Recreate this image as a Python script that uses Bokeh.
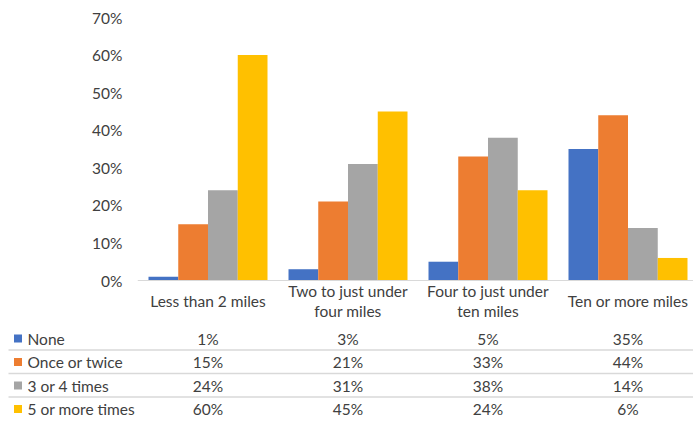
from bokeh.plotting import figure
from bokeh.models import ColumnDataSource, FixedTicker, NumeralTickFormatter, Span, Range1d
from bokeh.core.properties import value
from bokeh.embed import file_html
from bokeh.resources import INLINE

# ---- data -------------------------------------------------------------
categories = ["Less than 2 miles", "Two to just under\nfour miles",
              "Four to just under\nten miles", "Ten or more miles"]
series_names = ["None", "Once or twice", "3 or 4 times", "5 or more times"]
none_pct = [1, 3, 5, 35]
once_twice_pct = [15, 21, 33, 44]
three_four_pct = [24, 31, 38, 14]
five_plus_pct = [60, 45, 24, 6]
y_ticks = [0.0, 0.1, 0.2, 0.3, 0.4, 0.5, 0.6, 0.7]

series_values = [none_pct, once_twice_pct, three_four_pct, five_plus_pct]
colors = ["#4472C4", "#ED7D31", "#A5A5A5", "#FFC000"]

# ---- layout constants ------------------------------------------------
W = 693
TOP_H = 324          # chart + category labels
BOT_H = 424 - TOP_H  # table rows
FRAME_LEFT = 137
FRAME_TOP = 5
FIRST_CENTER = 207.5
PX_PER_CAT = 140.0
PX_PER_UNIT_Y = 375.7
ZERO_Y = 280
CAT_LABEL_Y = 300.5
BAR_W = 0.2125
FONT = value("Lato")
FONT_SIZE = "15.5px"
TXT = "#404040"

# ---- chart ---------------------------------------------------------------
x_start = -(FIRST_CENTER - FRAME_LEFT) / PX_PER_CAT
x_end = (W - FIRST_CENTER) / PX_PER_CAT
y_start = -(TOP_H - ZERO_Y) / PX_PER_UNIT_Y
y_end = (ZERO_Y - FRAME_TOP) / PX_PER_UNIT_Y

top = figure(width=W, height=TOP_H, output_backend="svg", toolbar_location=None,
             x_range=Range1d(x_start, x_end), y_range=Range1d(y_start, y_end),
             x_axis_location=None, min_border_left=FRAME_LEFT, min_border_right=0,
             min_border_top=FRAME_TOP, min_border_bottom=0,
             outline_line_color=None)
top.xgrid.visible = False
top.ygrid.visible = False

ya = top.yaxis[0]
ya.ticker = FixedTicker(ticks=y_ticks)
ya.formatter = NumeralTickFormatter(format="0%")
ya.axis_line_color = None
ya.major_tick_line_color = None
ya.minor_tick_line_color = None
ya.major_tick_out = 0
ya.major_tick_in = 0
ya.major_label_standoff = 15
ya.major_label_text_font = "Lato"
ya.major_label_text_font_size = FONT_SIZE
ya.major_label_text_color = TXT

for s, (vals, col) in enumerate(zip(series_values, colors)):
    xs = [i + (s - 1.5) * BAR_W for i in range(len(categories))]
    src = ColumnDataSource(dict(x=xs, top=[v / 100 for v in vals]))
    top.vbar(x="x", top="top", bottom=0, width=BAR_W, source=src,
             fill_color=col, line_color=None)

top.add_layout(Span(location=0, dimension="width", line_color="#D9D9D9", line_width=1))

# category labels under the bars
cat_y = -(CAT_LABEL_Y - ZERO_Y) / PX_PER_UNIT_Y
top.text(x=list(range(len(categories))), y=[cat_y] * len(categories), text=categories,
         text_font=FONT, text_font_size=value(FONT_SIZE), text_color=TXT,
         text_align="center", text_baseline="middle", text_line_height=1.15)

# ---- data table ------------------------------------------------------------
bot = figure(width=W, height=BOT_H, output_backend="svg", toolbar_location=None,
             x_range=Range1d(-FIRST_CENTER / PX_PER_CAT, x_end),
             y_range=Range1d(424, TOP_H),
             x_axis_location=None, y_axis_location=None,
             min_border=0, outline_line_color=None)
bot.xgrid.visible = False
bot.ygrid.visible = False

def px(x):
    return (x - FIRST_CENTER) / PX_PER_CAT

row_y = [338, 361.5, 385, 408.5]
for r, (name, vals, col) in enumerate(zip(series_names, series_values, colors)):
    bot.scatter(x=[px(17.5)], y=[row_y[r]], marker="square", size=8,
                fill_color=col, line_color=None)
    bot.text(x=[px(27)], y=[row_y[r]], text=[name], text_font=FONT,
             text_font_size=value(FONT_SIZE), text_color=TXT,
             text_align="left", text_baseline="middle")
    bot.text(x=list(range(len(vals))), y=[row_y[r]] * len(vals),
             text=[f"{v}%" for v in vals], text_font=FONT,
             text_font_size=value(FONT_SIZE), text_color=TXT,
             text_align="center", text_baseline="middle")

sep_y = [349.5, 373, 396.5]
bot.segment(x0=[px(8)] * 3, x1=[x_end] * 3, y0=sep_y, y1=sep_y,
            line_color="#D9D9D9", line_width=1.5)

# two independent roots so the table frame spans the full page width
open("out.html", "w").write(file_html([top, bot], INLINE))
